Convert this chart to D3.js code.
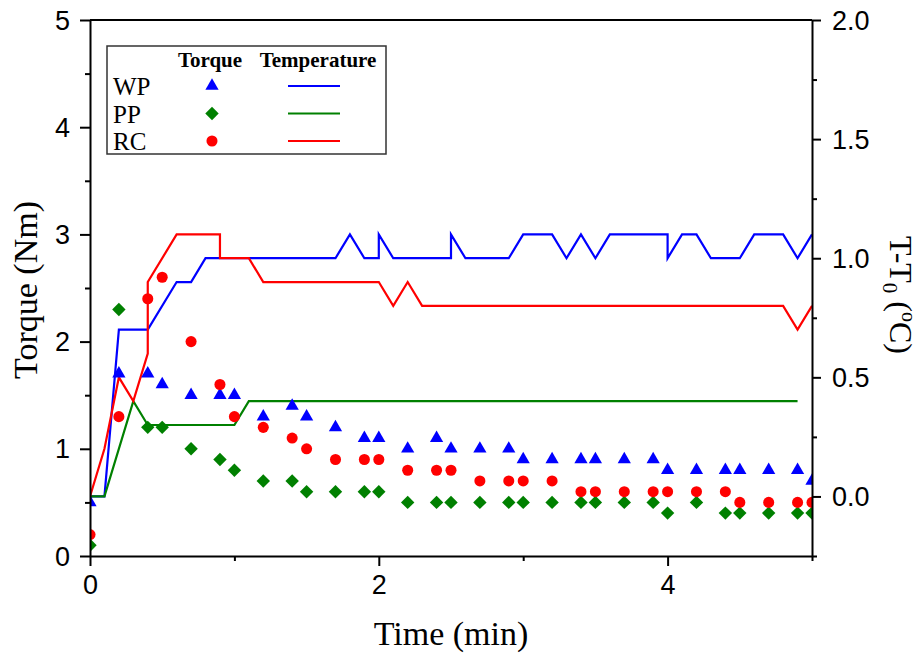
<!DOCTYPE html>
<html>
<head>
<meta charset="utf-8">
<script src="https://cdn.jsdelivr.net/npm/d3@7"></script>
<style>
  body { margin: 0; background: #fff; }
  .axis path, .axis line { stroke: #000; stroke-width: 2; }
  .title { font-family: "Liberation Serif", "Times New Roman", serif; fill: #000; }
</style>
</head>
<body>
<svg width="921" height="654"></svg>
<script>
// torque sampling times (min)
const times = [0, 0.2, 0.4, 0.5, 0.7, 0.9, 1.0, 1.2, 1.4, 1.5, 1.7, 1.9, 2.0, 2.2, 2.4, 2.5,
  2.7, 2.9, 3.0, 3.2, 3.4, 3.5, 3.7, 3.9, 4.0, 4.2, 4.4, 4.5, 4.7, 4.9, 5.0];

// torque (Nm)
const torqueWP = [0.5, 1.7, 1.7, 1.6, 1.5, 1.5, 1.5, 1.3, 1.4, 1.3, 1.2, 1.1, 1.1, 1.0, 1.1, 1.0,
  1.0, 1.0, 0.9, 0.9, 0.9, 0.9, 0.9, 0.9, 0.8, 0.8, 0.8, 0.8, 0.8, 0.8, 0.7];
const torquePP = [0.1, 2.3, 1.2, 1.2, 1.0, 0.9, 0.8, 0.7, 0.7, 0.6, 0.6, 0.6, 0.6, 0.5, 0.5, 0.5,
  0.5, 0.5, 0.5, 0.5, 0.5, 0.5, 0.5, 0.5, 0.4, 0.5, 0.4, 0.4, 0.4, 0.4, 0.4];
const torqueRC = [0.2, 1.3, 2.4, 2.6, 2.0, 1.6, 1.3, 1.2, 1.1, 1.0, 0.9, 0.9, 0.9, 0.8, 0.8, 0.8,
  0.7, 0.7, 0.7, 0.7, 0.6, 0.6, 0.6, 0.6, 0.6, 0.6, 0.6, 0.5, 0.5, 0.5, 0.5];

// temperature rise T-T0 (°C)
const tempTimeWP = [0, 0.1, 0.2, 0.4, 0.6, 0.7, 0.8, 1.7, 1.8, 1.9, 2.0, 2.0, 2.1, 2.5, 2.5, 2.6,
  2.9, 3.0, 3.2, 3.3, 3.4, 3.5, 3.6, 4.0, 4.0, 4.1, 4.2, 4.3, 4.5, 4.6, 4.8, 4.9, 5.0];
const tempWP = [0, 0, 0.7, 0.7, 0.9, 0.9, 1.0, 1.0, 1.1, 1.0, 1.0, 1.1, 1.0, 1.0, 1.1, 1.0,
  1.0, 1.1, 1.1, 1.0, 1.1, 1.0, 1.1, 1.1, 1.0, 1.1, 1.1, 1.0, 1.0, 1.1, 1.1, 1.0, 1.1];
const tempTimePP = [0, 0.1, 0.3, 0.4, 1.0, 1.1, 4.9];
const tempPP = [0, 0, 0.4, 0.3, 0.3, 0.4, 0.4];
const tempTimeRC = [0, 0.1, 0.2, 0.3, 0.4, 0.4, 0.6, 0.9, 0.9, 1.1, 1.2, 2.0, 2.1, 2.2, 2.3, 4.8, 4.9, 5.0];
const tempRC = [0, 0.2, 0.5, 0.4, 0.6, 0.9, 1.1, 1.1, 1.0, 1.0, 0.9, 0.9, 0.8, 0.9, 0.8, 0.8, 0.7, 0.8];

const xTicks = [0, 2, 4];
const xMinor = [1, 3, 5];
const yTicks = [0, 1, 2, 3, 4, 5];
const yMinor = [0.5, 1.5, 2.5, 3.5, 4.5];
const y2Ticks = [0, 0.5, 1.0, 1.5, 2.0];
const y2Minor = [-0.25, 0.25, 0.75, 1.25, 1.75];

const svg = d3.select("svg");
const width = +svg.attr("width");
const height = +svg.attr("height");
const margin = { top: 20, right: 109, bottom: 98, left: 90 };
const innerWidth = width - margin.left - margin.right;
const innerHeight = height - margin.top - margin.bottom;

const xScale = d3.scaleLinear().domain([0, 5]).range([0, innerWidth]);
const yScale = d3.scaleLinear().domain([0, 5]).range([innerHeight, 0]);
const y2Scale = d3.scaleLinear().domain([-0.25, 2]).range([innerHeight, 0]);

const g = svg
  .append("g")
  .attr("transform", `translate(${margin.left}, ${margin.top})`);

g.append("clipPath")
  .attr("id", "plot-clip")
  .append("rect")
  .attr("width", innerWidth)
  .attr("height", innerHeight);

const series = [
  { name: "WP", color: "#0000ff", torque: torqueWP, tTime: tempTimeWP, temp: tempWP, shape: "triangle" },
  { name: "PP", color: "#008000", torque: torquePP, tTime: tempTimePP, temp: tempPP, shape: "diamond" },
  { name: "RC", color: "#ff0000", torque: torqueRC, tTime: tempTimeRC, temp: tempRC, shape: "circle" },
];

const symbolPath = (shape) => {
  if (shape === "triangle") return d3.symbol().type(d3.symbolTriangle).size(76)();
  if (shape === "diamond") return d3.symbol().type(d3.symbolSquare).size(90)();
  return d3.symbol().type(d3.symbolCircle).size(96)();
};
const symbolRotate = (shape) => (shape === "diamond" ? " rotate(45)" : "");

const plot = g.append("g").attr("clip-path", "url(#plot-clip)");

// temperature lines (right axis)
const lineGenerator = d3
  .line()
  .x((d) => xScale(d[0]))
  .y((d) => y2Scale(d[1]));

series.forEach((s) => {
  plot
    .append("path")
    .attr("d", lineGenerator(s.tTime.map((t, i) => [t, s.temp[i]])))
    .attr("fill", "none")
    .attr("stroke", s.color)
    .attr("stroke-width", 2.2);
});

// torque markers (left axis)
series.forEach((s) => {
  plot
    .selectAll(".m-" + s.name)
    .data(s.torque)
    .enter()
    .append("path")
    .attr("class", "m-" + s.name)
    .attr("d", symbolPath(s.shape))
    .attr("transform", (d, i) => `translate(${xScale(times[i])}, ${yScale(d)})` + symbolRotate(s.shape))
    .attr("fill", s.color);
});

// axes: tick text styled directly, dy replaced by dominant-baseline
const styleAxis = (sel, baseline) =>
  sel
    .selectAll("text")
    .attr("font-family", "'Liberation Sans', Arial, sans-serif")
    .attr("font-size", 27)
    .attr("fill", "#000")
    .attr("dy", null)
    .attr("dominant-baseline", baseline);

g.append("g")
  .attr("class", "axis")
  .attr("transform", `translate(0, ${innerHeight})`)
  .call(d3.axisBottom(xScale).tickValues(xTicks).tickSizeInner(10).tickSizeOuter(0).tickPadding(9).tickFormat(d3.format("d")))
  .call(styleAxis, "hanging");
g.append("g")
  .attr("class", "axis")
  .attr("transform", `translate(0, ${innerHeight})`)
  .call(d3.axisBottom(xScale).tickValues(xMinor).tickSize(5).tickFormat(""))
  .select(".domain").remove();

g.append("g")
  .attr("class", "axis")
  .call(d3.axisLeft(yScale).tickValues(yTicks).tickSizeInner(10).tickSizeOuter(0).tickPadding(10).tickFormat(d3.format("d")))
  .call(styleAxis, "central");
g.append("g")
  .attr("class", "axis")
  .call(d3.axisLeft(yScale).tickValues(yMinor).tickSize(5).tickFormat(""))
  .select(".domain").remove();

g.append("g")
  .attr("class", "axis")
  .attr("transform", `translate(${innerWidth}, 0)`)
  .call(d3.axisRight(y2Scale).tickValues(y2Ticks).tickSizeInner(9).tickSizeOuter(0).tickPadding(11).tickFormat(d3.format(".1f")))
  .call(styleAxis, "central");
g.append("g")
  .attr("class", "axis")
  .attr("transform", `translate(${innerWidth}, 0)`)
  .call(d3.axisRight(y2Scale).tickValues(y2Minor).tickSize(5).tickFormat(""))
  .select(".domain").remove();

// top frame
g.append("line")
  .attr("x1", 0)
  .attr("x2", innerWidth)
  .attr("y1", 0)
  .attr("y2", 0)
  .attr("stroke", "#000")
  .attr("stroke-width", 2);

// axis titles
svg
  .append("text")
  .attr("class", "title")
  .attr("x", margin.left + innerWidth / 2)
  .attr("y", 645)
  .attr("text-anchor", "middle")
  .attr("font-size", 34)
  .text("Time (min)");

svg
  .append("text")
  .attr("class", "title")
  .attr("transform", `translate(37, ${margin.top + 270}) rotate(-90)`)
  .attr("text-anchor", "middle")
  .attr("font-size", 34)
  .text("Torque (Nm)");

const rightTitle = svg
  .append("text")
  .attr("class", "title")
  .attr("transform", `translate(890, ${margin.top + 275}) rotate(90)`)
  .attr("text-anchor", "middle")
  .attr("font-size", 32);
rightTitle.append("tspan").text("T-T");
rightTitle.append("tspan").attr("font-size", 21).attr("dy", 7).text("0");
rightTitle.append("tspan").attr("dy", -7).text(" (");
rightTitle.append("tspan").attr("font-size", 20).attr("dy", -12).text("o");
rightTitle.append("tspan").attr("dy", 12).text("C)");

// legend
const legend = svg.append("g").attr("class", "legend");

legend
  .append("rect")
  .attr("x", 107)
  .attr("y", 46)
  .attr("width", 279)
  .attr("height", 108)
  .attr("fill", "#fff")
  .attr("stroke", "#333")
  .attr("stroke-width", 1.5);

legend
  .selectAll("text.head")
  .data([["Torque", 210], ["Temperature", 318]])
  .enter()
  .append("text")
  .attr("class", "title head")
  .attr("x", (d) => d[1])
  .attr("y", 67)
  .attr("text-anchor", "middle")
  .attr("font-size", 21)
  .attr("font-weight", "bold")
  .text((d) => d[0]);

const legendRow = legend
  .selectAll("g.row")
  .data(series)
  .enter()
  .append("g")
  .attr("class", "row")
  .attr("transform", (d, i) => `translate(0, ${86 + i * 27.5})`);

legendRow
  .append("text")
  .attr("class", "title")
  .attr("x", 113)
  .attr("y", 9)
  .attr("font-size", 25)
  .text((d) => d.name);

legendRow
  .append("path")
  .attr("d", (d) => symbolPath(d.shape))
  .attr("transform", (d) => "translate(212, 0)" + symbolRotate(d.shape))
  .attr("fill", (d) => d.color);

legendRow
  .append("line")
  .attr("x1", 288)
  .attr("x2", 340)
  .attr("stroke", (d) => d.color)
  .attr("stroke-width", 2.2);
</script>
</body>
</html>
